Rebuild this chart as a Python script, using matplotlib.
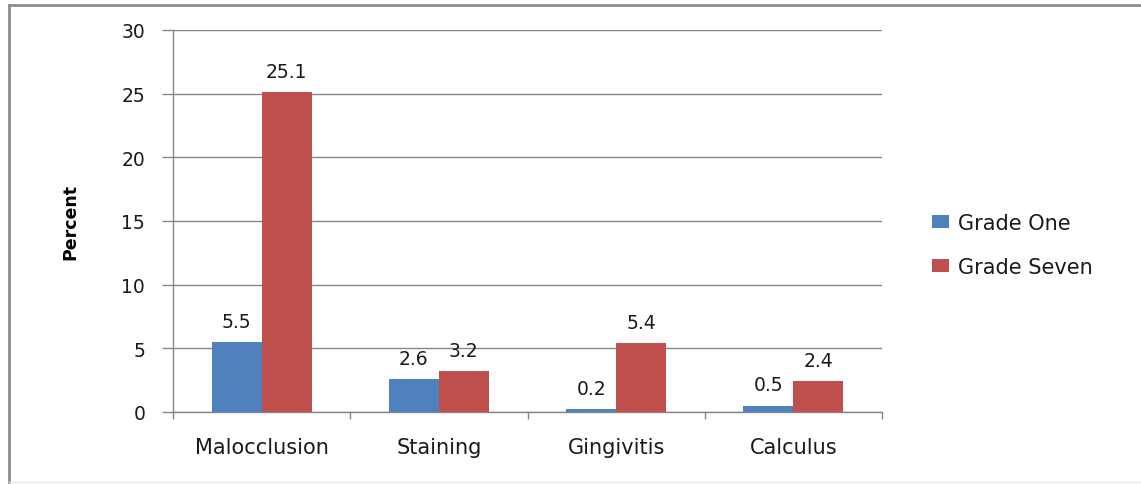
import numpy as np
import matplotlib.pyplot as plt
from matplotlib.lines import Line2D

# Oral health findings by grade
conditions = ["Malocclusion", "Staining", "Gingivitis", "Calculus"]
grade_one = [5.5, 2.6, 0.2, 0.5]
grade_seven = [25.1, 3.2, 5.4, 2.4]
series_names = ["Grade One", "Grade Seven"]
yticks = [0, 5, 10, 15, 20, 25, 30]

blue = "#4F81BD"
red = "#C0504D"
grid_grey = "#868686"

plt.rcParams['font.family'] = ['DejaVu Sans']

fig = plt.figure(figsize=(11.41, 4.85), dpi=100)
ax = fig.add_axes([173 / 1141, 1 - 413 / 485, (882 - 173) / 1141, (413 - 31) / 485])

x = np.arange(len(conditions))
w = 0.282
b1 = ax.bar(x - w / 2, grade_one, w, color=blue, label=series_names[0], zorder=3)
b2 = ax.bar(x + w / 2, grade_seven, w, color=red, label=series_names[1], zorder=3)

# value labels above each bar
for bars, vals in [(b1, grade_one), (b2, grade_seven)]:
    for rect, v in zip(bars, vals):
        ax.annotate(f"{v}", (rect.get_x() + rect.get_width() / 2, v),
                    xytext=(0, 11), textcoords="offset points",
                    ha="center", va="baseline", fontsize=13.5, color="#1a1a1a")

ax.set_xlim(-0.5, len(conditions) - 0.5)
ax.set_ylim(0, 30)
ax.set_yticks(yticks)
ax.set_yticklabels([str(t) for t in yticks])
ax.yaxis.grid(True, color=grid_grey, linewidth=1, zorder=0)
ax.set_axisbelow(True)

# category boundary ticks on the x axis, labels in between
ax.set_xticks(np.arange(len(conditions) + 1) - 0.5)
ax.set_xticklabels([])
ax.set_xticks(x, minor=True)
ax.set_xticklabels(conditions, minor=True, fontsize=15, color="#1a1a1a")
ax.tick_params(axis="x", which="major", length=5, width=1, color=grid_grey, direction="out")
ax.tick_params(axis="x", which="minor", length=0, pad=18)
ax.tick_params(axis="y", length=8, width=1, color=grid_grey, pad=12,
               labelsize=13.5, labelcolor="#1a1a1a")

for side in ["top", "right"]:
    ax.spines[side].set_visible(False)
for side in ["left", "bottom"]:
    ax.spines[side].set_color(grid_grey)
    ax.spines[side].set_linewidth(1)

ax.set_ylabel("Percent", fontsize=12.5, fontweight="bold", labelpad=30)

ax.legend(loc="center left", bbox_to_anchor=(932 / 1141, 1 - 246 / 485),
          bbox_transform=fig.transFigure, frameon=False, fontsize=15,
          borderpad=0, borderaxespad=0, handlelength=0.82, handleheight=0.58,
          handletextpad=0.45, labelspacing=1.15, labelcolor="#1a1a1a")

# outer chart border (top and left edges)
fig.add_artist(Line2D([9 / 1141, 1], [1 - 6 / 485, 1 - 6 / 485], transform=fig.transFigure,
                      color="#8c8c8c", linewidth=2))
fig.add_artist(Line2D([9 / 1141, 9 / 1141], [0, 1 - 6 / 485], transform=fig.transFigure,
                      color="#8c8c8c", linewidth=2))
fig.add_artist(Line2D([9 / 1141, 1], [2 / 485, 2 / 485], transform=fig.transFigure,
                      color="#e6e6e6", linewidth=1))

fig.savefig("out.png", dpi=100)
